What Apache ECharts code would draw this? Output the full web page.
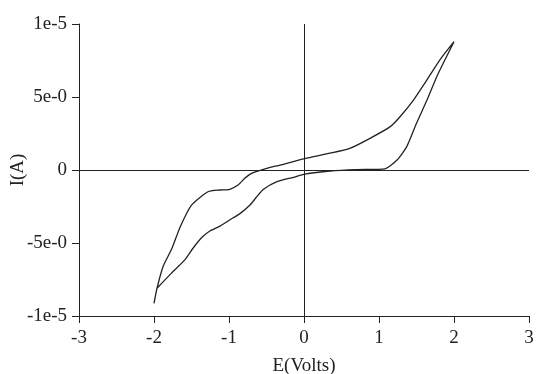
<!DOCTYPE html>
<html>
<head>
<meta charset="utf-8">
<script src="https://cdn.jsdelivr.net/npm/echarts@6/dist/echarts.min.js"></script>
<style>
  html, body { margin: 0; padding: 0; background: #fff; }
  #chart { width: 536px; height: 374px; }
</style>
</head>
<body>
<div id="chart"></div>
<script>
// potential (V) and current (in 1e-6 A), traced along the loop
const potential = [
  -1.96, -1.77, -1.59, -1.48, -1.36, -1.25, -1.12, -0.99, -0.85, -0.72,
  -0.63, -0.54, -0.36, -0.14, 0.01, 0.35, 0.70, 1.08, 1.24, 1.37,
  1.50, 1.64, 1.77, 1.90, 2.00,
  1.81, 1.61, 1.46, 1.28, 1.15, 0.88, 0.61, 0.35, 0.01, -0.32,
  -0.54, -0.70, -0.79, -0.88, -0.99, -1.12, -1.28, -1.50, -1.65, -1.76,
  -1.88, -1.96, -2.00
];
const currentMicro = [
  -8.1, -7.08, -6.16, -5.36, -4.61, -4.16, -3.84, -3.42, -2.97, -2.40,
  -1.83, -1.32, -0.80, -0.50, -0.28, -0.07, 0.03, 0.08, 0.68, 1.6,
  3.2, 4.79, 6.39, 7.76, 8.79,
  7.53, 5.94, 4.79, 3.65, 2.97, 2.17, 1.48, 1.15, 0.78, 0.34,
  0.05, -0.23, -0.57, -1.03, -1.32, -1.37, -1.49, -2.40, -3.88, -5.36,
  -6.62, -8.1, -9.13
];
const yTickLabels = { "-10": "-1e-5", "-5": "-5e-0", "0": "0", "5": "5e-0", "10": "1e-5" };

const chart = echarts.init(document.getElementById("chart"));
const font = "Liberation Serif";

chart.setOption({
  animation: false,
  grid: { left: 79, right: 7, top: 24, bottom: 58, containLabel: false, outerBoundsMode: "none" },
  xAxis: {
    type: "value",
    min: -3, max: 3, interval: 1,
    name: "E(Volts)",
    nameLocation: "middle",
    nameGap: 41,
    nameMoveOverlap: false,
    nameTextStyle: { fontFamily: font, fontSize: 19, color: "#222" },
    axisLine: { onZero: false, lineStyle: { color: "#222", width: 1 } },
    axisTick: { show: true, length: 7, lineStyle: { color: "#222" } },
    axisLabel: { fontFamily: font, fontSize: 19, color: "#222", margin: 13 },
    splitLine: { show: false }
  },
  yAxis: {
    type: "value",
    min: -10, max: 10, interval: 5,
    name: "I(A)",
    nameLocation: "middle",
    nameGap: 51,
    nameMoveOverlap: false,
    nameTextStyle: { fontFamily: font, fontSize: 19, color: "#222" },
    axisLine: { show: true, onZero: false, lineStyle: { color: "#222", width: 1 } },
    axisTick: { show: true, length: 7, lineStyle: { color: "#222" } },
    axisLabel: {
      fontFamily: font, fontSize: 19, color: "#222", margin: 12,
      formatter: v => yTickLabels[String(v)]
    },
    splitLine: { show: false }
  },
  series: [{
    type: "line",
    data: potential.map((x, i) => [x, currentMicro[i]]),
    showSymbol: false,
    smooth: 0.2,
    lineStyle: { color: "#222", width: 1.3 },
    markLine: {
      silent: true,
      symbol: "none",
      label: { show: false },
      lineStyle: { color: "#222", width: 1, type: "solid" },
      data: [{ yAxis: 0 }, { xAxis: 0 }]
    }
  }]
});
</script>
</body>
</html>
